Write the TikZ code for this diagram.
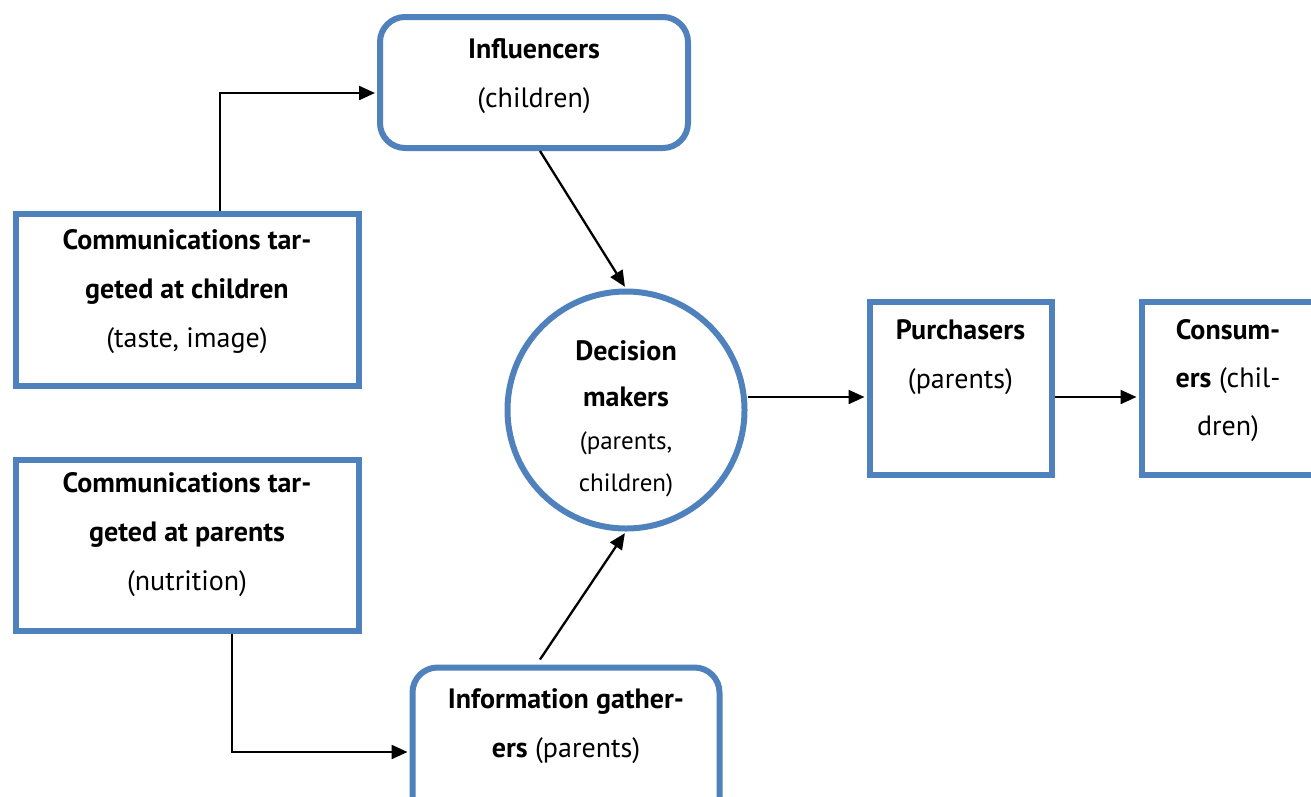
\documentclass[tikz,border=0pt]{standalone}
\usepackage{fontspec}
\setmainfont{PT Sans}
\usetikzlibrary{arrows.meta}
\definecolor{boxblue}{HTML}{4F81BD}
\begin{document}
\begin{tikzpicture}[x=1pt,y=-1pt,
  box/.style={draw=boxblue, line width=6pt, fill=white, inner sep=0pt},
  rbox/.style={box, rounded corners=25pt},
  txt/.style={align=center, font=\fontsize{28}{49}\selectfont, inner sep=0pt, anchor=base},
  arr/.style={line width=2.3pt, -{Triangle[length=16pt,width=14pt]}, shorten >=2pt}]
\useasboundingbox (0,0) rectangle (1311,796);
\clip (0,0) rectangle (1311,796);
% boxes
\node[rbox, minimum width=308pt, minimum height=131pt] (inf) at (534,82.5) {};
\node[box, minimum width=343pt, minimum height=172pt] (cc) at (187,299.5) {};
\node[box, minimum width=343pt, minimum height=171pt] (cp) at (187,545) {};
\node[box, circle, minimum size=237pt] (dm) at (626,410) {};
\node[box, minimum width=182pt, minimum height=173pt] (pur) at (960.5,388) {};
\node[box, minimum width=188pt, minimum height=173pt] (con) at (1235.5,388) {};
\node[rbox, minimum width=307pt, minimum height=162pt] (info) at (566,748.5) {};
% texts
\node[txt] (inft) at (534,107) {\textbf{Influencers}\\(children)};
\node[txt] (cct) at (187,347) {\textbf{Communications tar-}\\\textbf{geted at children}\\(taste, image)};
\node[txt] (cpt) at (187,590) {\textbf{Communications tar-}\\\textbf{geted at parents}\\(nutrition)};
\node[txt, font=\fontsize{28}{46}\selectfont] (dmt) at (626,491) {\textbf{Decision}\\\textbf{makers}\\[-3pt]{\fontsize{25}{41}\selectfont (parents,}\\[-4pt]{\fontsize{25}{41}\selectfont children)}};
\node[txt] (purt) at (960.5,388) {\textbf{Purchasers}\\(parents)};
\node[txt, font=\fontsize{28}{48}\selectfont] (cont) at (1228,435) {\textbf{Consum-}\\\textbf{ers} (chil-\\dren)};
\node[txt] (infot) at (566,757) {\textbf{Information gather-}\\\textbf{ers} (parents)};
% connectors
\draw[arr] ([xshift=33pt]cc.north) |- ([yshift=-10.5pt]inf.west);
\draw[arr] ([xshift=6pt]inf.south) -- (dm.north);
\draw[arr] ([xshift=-26pt,yshift=5pt]info.north) -- (dm.south);
\draw[arr] ([xshift=45pt]cp.south) |- ([yshift=-3.5pt]info.west);
\draw[arr] ([yshift=13pt]dm.east) -- ([yshift=13pt]dm.east -| pur.west);
\draw[arr] ([yshift=-9pt]pur.east) -- ([yshift=-9pt]pur.east -| con.west);
\end{tikzpicture}
\end{document}
